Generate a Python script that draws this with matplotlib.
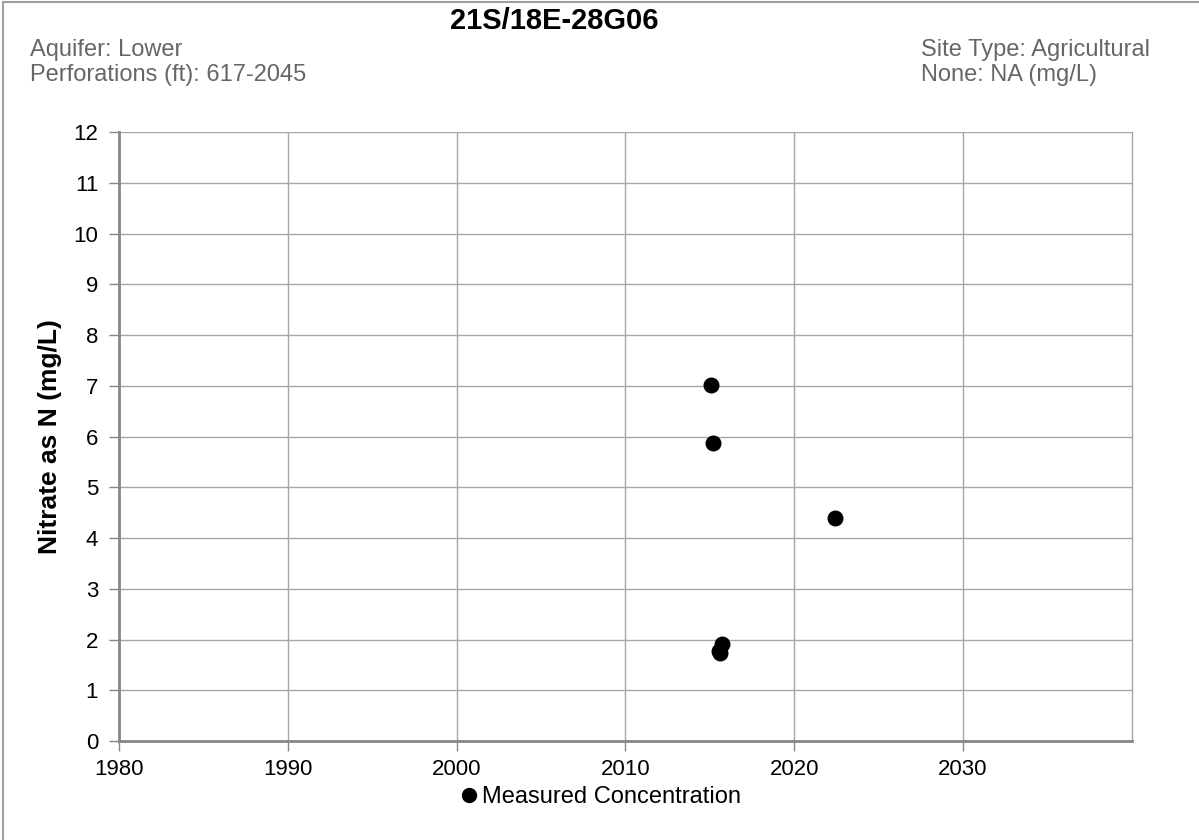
import matplotlib
matplotlib.use("Agg")
import matplotlib.pyplot as plt
from matplotlib.lines import Line2D

plt.rcParams['font.family'] = ['Liberation Sans', 'DejaVu Sans']

# measured nitrate samples (decimal year, mg/L)
years = [2015.07, 2015.19, 2015.55, 2015.62, 2015.75, 2022.42]
nitrate = [7.01, 5.88, 1.78, 1.74, 1.92, 4.40]

xticks = [1980, 1990, 2000, 2010, 2020, 2030]
yticks = list(range(0, 13))

grid_col = "#a6a6a6"
spine_col = "#868686"
side_col = "#666666"

fig = plt.figure(figsize=(11.99, 8.40), dpi=100)
ax = fig.add_axes([0.0993, 0.1179, 0.8446, 0.7247])

ax.scatter(years, nitrate, s=110, color="black", zorder=3, clip_on=False)

ax.set_xlim(1980, 2040)
ax.set_ylim(0, 12)
ax.set_xticks(xticks)
ax.set_yticks(yticks)
ax.tick_params(axis="both", labelsize=16, colors=spine_col, labelcolor="black",
               length=7, width=1)
ax.tick_params(axis="y", pad=8)
ax.tick_params(axis="x", pad=6)
ax.grid(True, color=grid_col, linewidth=1)
ax.set_axisbelow(True)
for s in ax.spines.values():
    s.set_color(spine_col)
ax.spines["left"].set_linewidth(2)
ax.spines["bottom"].set_linewidth(2)
ax.spines["top"].set_visible(False)
ax.spines["right"].set_linewidth(1)
ax.spines["right"].set_color(grid_col)

ax.set_ylabel("Nitrate as N (mg/L)", fontsize=19, fontweight="bold", labelpad=8)

fig.text(0.462, 0.975, "21S/18E-28G06", ha="center", va="center",
         fontsize=21, fontweight="bold")
fig.text(0.025, 0.933, "Aquifer: Lower", ha="left", va="baseline",
         fontsize=17, color=side_col)
fig.text(0.025, 0.904, "Perforations (ft): 617-2045", ha="left", va="baseline",
         fontsize=17, color=side_col)
fig.text(0.768, 0.933, "Site Type: Agricultural", ha="left", va="baseline",
         fontsize=17, color=side_col)
fig.text(0.768, 0.904, "None: NA (mg/L)", ha="left", va="baseline",
         fontsize=17, color=side_col)

handle = Line2D([], [], marker="o", color="black", linestyle="none", markersize=10)
fig.legend([handle], ["Measured Concentration"], loc="center",
           bbox_to_anchor=(0.50, 0.051), frameon=False, fontsize=17,
           handletextpad=0.05, handlelength=1.0)

# outer frame (top and left edges visible in the reference)
fig.add_artist(Line2D([0.0025, 0.0025], [0, 0.9975], color="#a0a0a0", linewidth=1.5,
                      transform=fig.transFigure))
fig.add_artist(Line2D([0.0025, 1], [0.9975, 0.9975], color="#a0a0a0", linewidth=1.5,
                      transform=fig.transFigure))

fig.savefig("out.png", dpi=100)
